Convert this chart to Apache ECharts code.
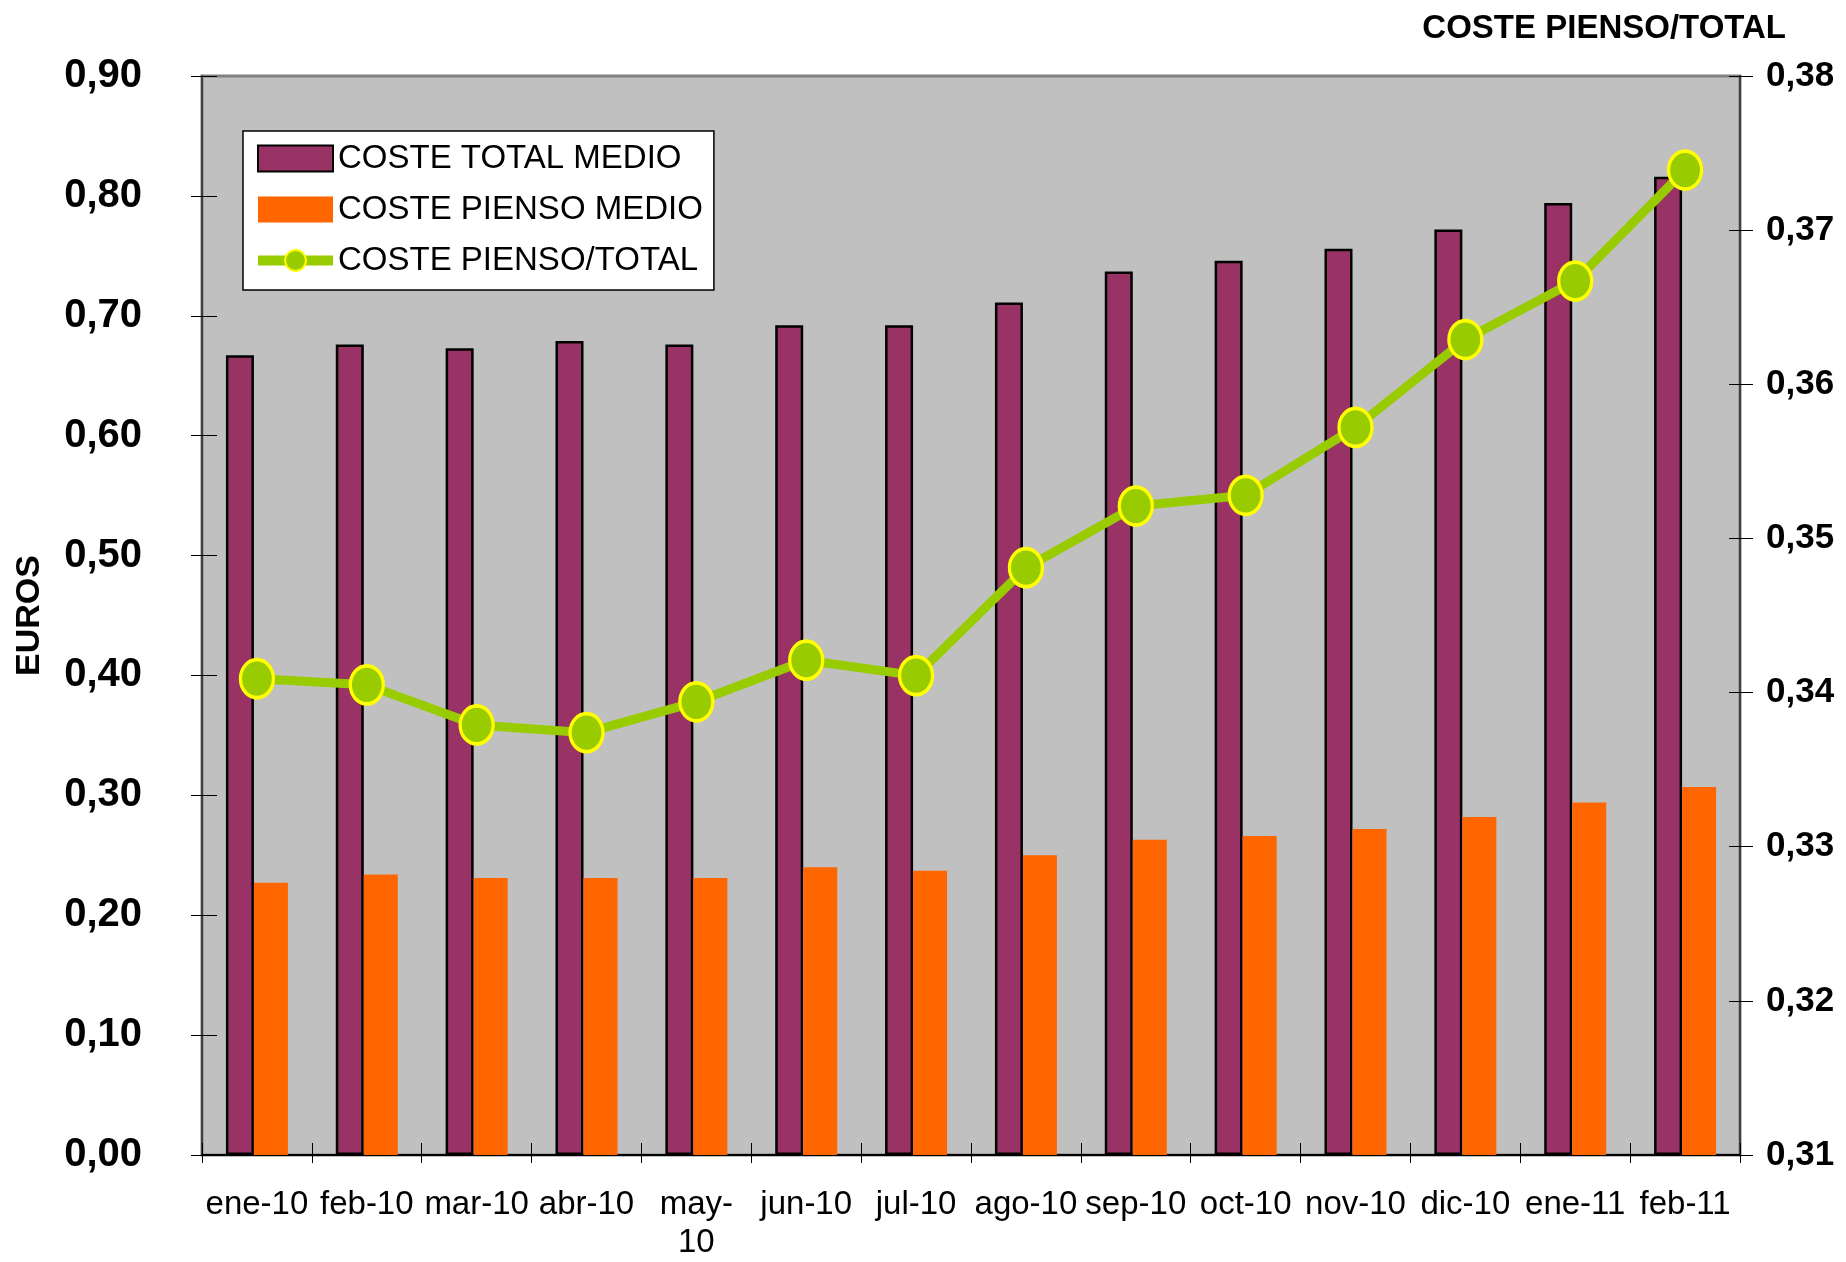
<!DOCTYPE html>
<html>
<head>
<meta charset="utf-8">
<script src="https://cdn.jsdelivr.net/npm/echarts@6/dist/echarts.min.js"></script>
<style>
html,body{margin:0;padding:0;background:#fff;}
#chart{width:1846px;height:1262px;}
</style>
</head>
<body>
<div id="chart"></div>
<script>
const categories = ['ene-10','feb-10','mar-10','abr-10','may-10','jun-10','jul-10','ago-10','sep-10','oct-10','nov-10','dic-10','ene-11','feb-11'];
const costeTotalMedio = [0.667,0.676,0.673,0.679,0.676,0.692,0.692,0.711,0.737,0.746,0.756,0.772,0.794,0.816];
const costePiensoMedio = [0.227,0.234,0.231,0.231,0.231,0.240,0.237,0.250,0.263,0.266,0.272,0.282,0.294,0.307];
const costePiensoTotal = [0.3409,0.3405,0.3379,0.3374,0.3394,0.3421,0.3411,0.3481,0.3521,0.3528,0.3572,0.3629,0.3667,0.3739];
const seriesNames = ['COSTE TOTAL MEDIO','COSTE PIENSO MEDIO','COSTE PIENSO/TOTAL'];

const FONT = '"Liberation Sans", Arial, sans-serif';
const chart = echarts.init(document.getElementById('chart'));
const comma = v => v.toFixed(2).replace('.', ',');

const hiddenAxisBits = {
  axisLine: { show: false },
  axisLabel: { show: false },
  splitLine: { show: false }
};

chart.setOption({
  animation: false,
  backgroundColor: '#ffffff',
  textStyle: { fontFamily: FONT, color: '#000' },
  title: {
    text: 'COSTE PIENSO/TOTAL',
    right: 55, top: 7,
    textStyle: { fontFamily: FONT, fontWeight: 'bold', fontSize: 33, color: '#000' }
  },
  grid: {
    left: 202, right: 106, top: 76, bottom: 97,
    show: true, backgroundColor: '#C0C0C0', borderColor: '#808080', borderWidth: 3
  },
  legend: {
    orient: 'vertical',
    left: 243, top: 131,
    backgroundColor: '#ffffff', borderColor: '#000', borderWidth: 1.5,
    padding: [11, 11, 13, 10],
    itemWidth: 75, itemHeight: 26, itemGap: 18,
    textStyle: { fontFamily: FONT, fontSize: 33, color: '#000', lineHeight: 30 },
    data: [
      { name: seriesNames[0], icon: 'rect' },
      { name: seriesNames[1], icon: 'rect' },
      { name: seriesNames[2], lineStyle: { width: 10 } }
    ]
  },
  xAxis: [
    {
      type: 'category',
      data: categories,
      boundaryGap: true,
      axisLine: { lineStyle: { color: '#000', width: 2 } },
      axisTick: { show: true, length: 8, lineStyle: { color: '#000', width: 1 } },
      axisLabel: {
        fontFamily: FONT, fontSize: 33, color: '#000', margin: 31, lineHeight: 38, interval: 0,
        formatter: v => v === 'may-10' ? 'may-\n10' : v
      },
      splitLine: { show: false }
    },
    Object.assign({
      type: 'category', data: categories, boundaryGap: true, position: 'bottom',
      axisTick: { show: true, inside: true, length: 12, lineStyle: { color: '#000', width: 1 } }
    }, hiddenAxisBits)
  ],
  yAxis: [
    {
      type: 'value', min: 0, max: 0.9, interval: 0.1,
      name: 'EUROS', nameLocation: 'middle', nameRotate: 90, nameGap: 155,
      nameTextStyle: { fontFamily: FONT, fontWeight: 'bold', fontSize: 34, color: '#000' },
      axisLine: { show: true, lineStyle: { color: '#404040', width: 2 } },
      axisTick: { show: true, length: 11, lineStyle: { color: '#000', width: 1 } },
      axisLabel: { fontFamily: FONT, fontWeight: 'bold', fontSize: 40, color: '#000', margin: 60, formatter: comma },
      splitLine: { show: false }
    },
    {
      type: 'value', min: 0.31, max: 0.38, interval: 0.01,
      position: 'right',
      axisLine: { show: true, lineStyle: { color: '#404040', width: 2 } },
      axisTick: { show: true, length: 13, lineStyle: { color: '#000', width: 1 } },
      axisLabel: { fontFamily: FONT, fontWeight: 'bold', fontSize: 35, color: '#000', margin: 26, formatter: comma },
      splitLine: { show: false }
    },
    Object.assign({
      type: 'value', min: 0, max: 0.9, interval: 0.1, position: 'left',
      axisTick: { show: true, inside: true, length: 15, lineStyle: { color: '#000', width: 1 } }
    }, hiddenAxisBits),
    Object.assign({
      type: 'value', min: 0.31, max: 0.38, interval: 0.01, position: 'right',
      axisTick: { show: true, inside: true, length: 11, lineStyle: { color: '#000', width: 1 } }
    }, hiddenAxisBits)
  ],
  series: [
    {
      name: seriesNames[0], type: 'bar', data: costeTotalMedio,
      barWidth: 28, barGap: '0%',
      itemStyle: { color: '#993366', borderColor: '#000', borderWidth: 2.5 }
    },
    {
      name: seriesNames[1], type: 'bar', data: costePiensoMedio,
      barWidth: 34, barGap: '0%',
      itemStyle: { color: '#FF6600' }
    },
    {
      name: seriesNames[2], type: 'line', yAxisIndex: 1, data: costePiensoTotal,
      z: 5,
      lineStyle: { color: '#99CC00', width: 9 },
      symbol: 'circle', symbolSize: [33, 38],
      itemStyle: { color: '#99CC00', borderColor: '#FFFF00', borderWidth: 3.5 }
    }
  ]
});
</script>
</body>
</html>
